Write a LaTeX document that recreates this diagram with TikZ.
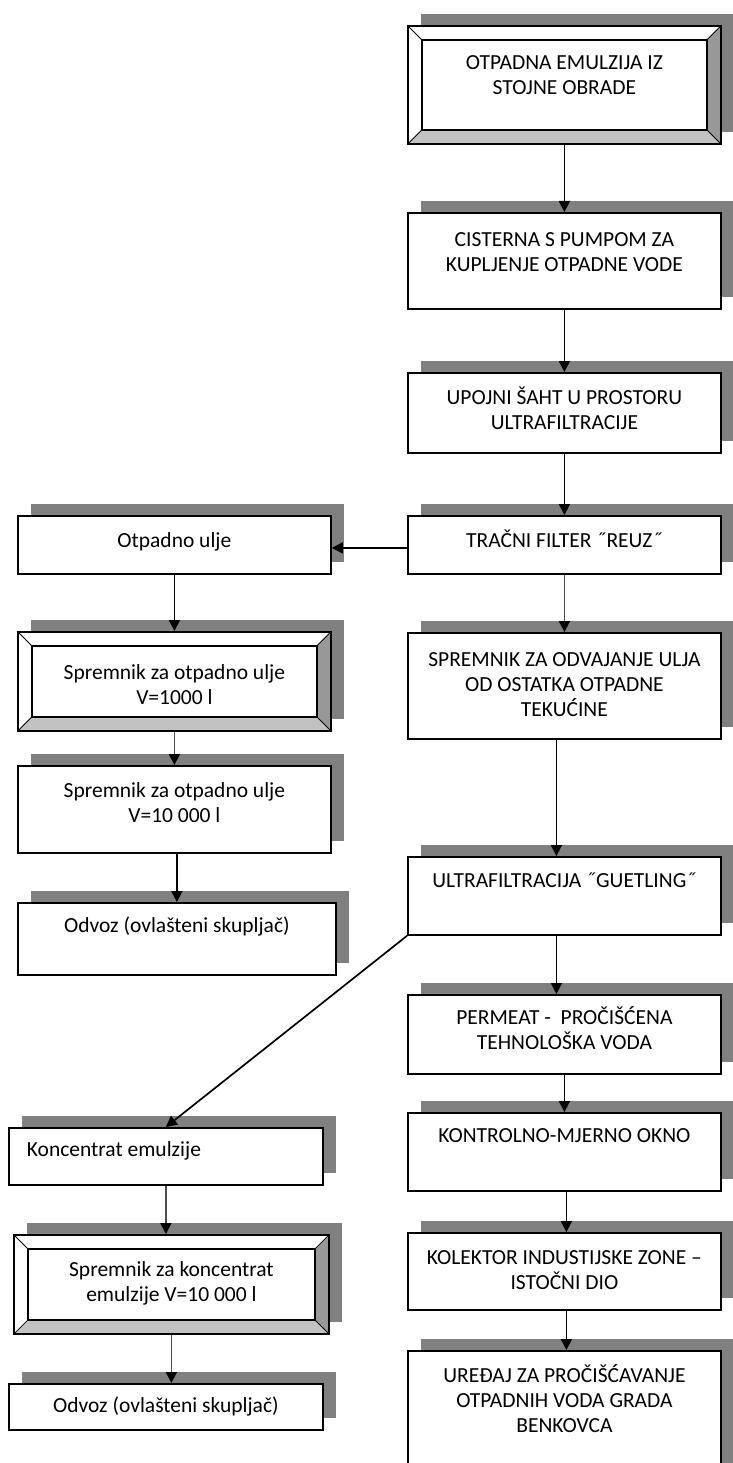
\documentclass[tikz,border=0pt]{standalone}
\usepackage{fontspec}
\setmainfont{Carlito}
\usetikzlibrary{shadows,arrows.meta}
\definecolor{shadowgray}{RGB}{128,128,128}
\definecolor{bevelright}{RGB}{152,152,152}
\definecolor{bevelbottom}{RGB}{194,194,194}
\newcommand{\boxfont}{\fontsize{21.5pt}{25pt}\selectfont}
% height, width, first baseline, text
\newcommand{\boxtext}[4]{\parbox[c][#1][t]{#2}{\centering\rule{0pt}{#3}#4}}
\tikzset{
  flowbox/.style={draw, line width=1.8pt, fill=white, inner sep=0pt, anchor=north west,
    font=\boxfont, drop shadow={shadow xshift=13pt, shadow yshift=12pt, fill=shadowgray, opacity=1}},
  bevel/.style={path picture={
    \path (path picture bounding box.south west) coordinate (bsw)
          (path picture bounding box.south east) coordinate (bse)
          (path picture bounding box.north east) coordinate (bne)
          (path picture bounding box.north west) coordinate (bnw);
    \fill[bevelbottom] (bsw) -- (bse) -- ([shift={(-14pt,14pt)}]bse) -- ([shift={(14pt,14pt)}]bsw) -- cycle;
    \fill[bevelright] (bse) -- (bne) -- ([shift={(-14pt,-14pt)}]bne) -- ([shift={(-14pt,14pt)}]bse) -- cycle;
    \draw[line width=1.6pt] ([shift={(14pt,14pt)}]bsw) rectangle ([shift={(-14pt,-14pt)}]bne);
    \draw[line width=0.8pt] (bsw) -- ++(14pt,14pt) (bse) -- ++(-14pt,14pt)
          (bne) -- ++(-14pt,-14pt) (bnw) -- ++(14pt,-14pt);
  }},
  flow/.style={line width=1.7pt, -{Triangle[width=11pt,length=11pt]}},
  greyflow/.style={flow, draw=black!70, -{Triangle[width=11pt,length=11pt,black]}}
}
\begin{document}
\begin{tikzpicture}
\useasboundingbox (0pt,0pt) rectangle (732pt,-1463pt);
% right column
\node[flowbox, bevel] (emulzija) at (407pt,-25pt) {\boxtext{118pt}{313pt}{44pt}{OTPADNA EMULZIJA IZ\\STOJNE OBRADE}};
\node[flowbox] (cisterna) at (407pt,-212pt) {\boxtext{96pt}{313pt}{34pt}{CISTERNA S PUMPOM ZA\\KUPLJENJE OTPADNE VODE}};
\node[flowbox] (sahta) at (407pt,-372pt) {\boxtext{80pt}{313pt}{32pt}{UPOJNI ŠAHT U PROSTORU\\ULTRAFILTRACIJE}};
\node[flowbox] (filter) at (407pt,-515pt) {\boxtext{58pt}{313pt}{32pt}{TRAČNI FILTER ˝REUZ˝}};
\node[flowbox] (odvajanje) at (407pt,-632pt) {\boxtext{106pt}{313pt}{34pt}{SPREMNIK ZA ODVAJANJE ULJA\\OD OSTATKA OTPADNE\\TEKUĆINE}};
\node[flowbox] (ultra) at (407pt,-856pt) {\boxtext{78pt}{313pt}{31pt}{ULTRAFILTRACIJA ˝GUETLING˝}};
\node[flowbox] (permeat) at (407pt,-994pt) {\boxtext{79pt}{313pt}{30pt}{PERMEAT -~ PROČIŠĆENA\\TEHNOLOŠKA VODA}};
\node[flowbox] (okno) at (407pt,-1112pt) {\boxtext{78pt}{313pt}{30pt}{KONTROLNO-MJERNO OKNO}};
\node[flowbox] (kolektor) at (407pt,-1232pt) {\boxtext{77pt}{313pt}{32pt}{KOLEKTOR INDUSTIJSKE ZONE –\\ISTOČNI DIO}};
\node[flowbox] (uredaj) at (407pt,-1350pt) {\boxtext{125pt}{313pt}{32pt}{UREĐAJ ZA PROČIŠĆAVANJE\\OTPADNIH VODA GRADA\\BENKOVCA}};
% left column
\node[flowbox] (ulje) at (17pt,-515pt) {\boxtext{58pt}{313pt}{32pt}{Otpadno ulje}};
\node[flowbox, bevel] (spremnikA) at (17pt,-631pt) {\boxtext{99pt}{313pt}{48pt}{Spremnik za otpadno ulje\\V=1000 l}};
\node[flowbox] (spremnikB) at (17pt,-765pt) {\boxtext{87pt}{313pt}{32pt}{Spremnik za otpadno ulje\\V=10 000 l}};
\node[flowbox] (odvozA) at (17pt,-902pt) {\boxtext{72pt}{318pt}{30pt}{Odvoz (ovlašteni skupljač)}};
\node[flowbox] (koncentrat) at (8pt,-1127pt) {\parbox[c][57pt][t]{314pt}{\raggedright\hspace*{18pt}\rule{0pt}{29pt}Koncentrat emulzije}};
\node[flowbox, bevel] (spremnikK) at (13pt,-1234pt) {\boxtext{99pt}{315pt}{42pt}{Spremnik za koncentrat\\emulzije V=10 000 l}};
\node[flowbox] (odvozB) at (8pt,-1383pt) {\boxtext{46pt}{314pt}{29pt}{Odvoz (ovlašteni skupljač)}};
% connectors
\draw[flow] (emulzija.south) -- (cisterna.north);
\draw[flow] (cisterna.south) -- (sahta.north);
\draw[flow] (sahta.south) -- (filter.north);
\draw[greyflow] (filter.south) -- (odvajanje.north);
\draw[flow] ([xshift=-8pt]odvajanje.south) -- ([xshift=-8pt]ultra.north);
\draw[flow] ([xshift=-8pt]ultra.south) -- ([xshift=-8pt]permeat.north);
\draw[flow] (permeat.south) -- (okno.north);
\draw[flow] ([xshift=2pt]okno.south) -- ([xshift=2pt]kolektor.north);
\draw[flow] ([xshift=2pt]kolektor.south) -- ([xshift=2pt]uredaj.north);
\draw[flow] ([yshift=-3pt]filter.west) -- ([yshift=-3pt]ulje.east);
\draw[flow] (ulje.south) -- (spremnikA.north);
\draw[greyflow] (spremnikA.south) -- (spremnikB.north);
\draw[flow] (odvozA.north |- spremnikB.south) -- (odvozA.north);
\draw[flow] (ultra.south west) -- (koncentrat.north);
\draw[greyflow] (koncentrat.south) -- (koncentrat.south |- spremnikK.north);
\draw[greyflow] (spremnikK.south) -- (spremnikK.south |- odvozB.north);
\end{tikzpicture}
\end{document}
